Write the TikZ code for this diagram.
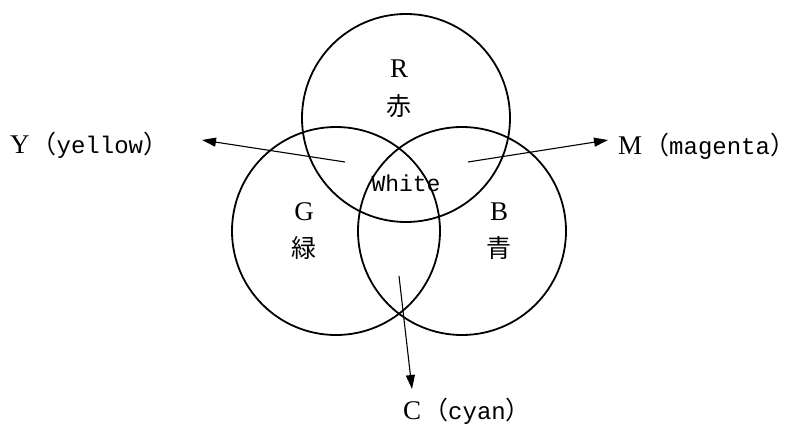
\documentclass[tikz,border=0pt]{standalone}
\usepackage{fontspec}
\setmainfont{Liberation Serif}
\newfontfamily\jpfont{Noto Sans CJK JP}
\newfontfamily\monofont{Liberation Mono}
\usetikzlibrary{arrows.meta}
\newcommand\capl[1]{{\fontsize{27}{30}\selectfont #1}}
\newcommand\jpl[1]{{\jpfont\fontsize{25}{30}\selectfont #1}}
\newcommand\monl[1]{{\monofont\fontsize{23}{30}\selectfont #1}}
\newcommand\monlab[1]{{\monofont\fontsize{24}{30}\selectfont #1}}
\newcommand\colorlabel[2]{\capl{#1}\hspace{2pt}\jpl{（}\monlab{#2}\makebox[10pt][l]{\jpl{）}}}
\begin{document}
\begin{tikzpicture}[x=1pt,y=-1pt,
  setcircle/.style={draw, line width=1.8pt, circle, minimum size=208pt, inner sep=0pt},
  arr/.style={line width=1.1pt, -{Triangle[length=14pt,width=9pt]}},
  lbl/.style={inner sep=0pt, anchor=base west}]
\useasboundingbox (0,0) rectangle (789,426);
\node[setcircle] (red) at (406,118) {};
\node[setcircle] (green) at (336,231) {};
\node[setcircle] (blue) at (462,231) {};
\node (rl) at (399,69) {\capl{R}};
\node (rk) at (399,106) {\jpl{赤}};
\node (gl) at (304,212) {\capl{G}};
\node (gk) at (304,248) {\jpl{緑}};
\node (bl) at (499,212) {\capl{B}};
\node (bk) at (499,248) {\jpl{青}};
\node (white) at (406,183) {\monl{White}};
\node[lbl] (ylab) at (10,153) {\colorlabel{Y}{yellow}};
\node[lbl] (mlab) at (618,154) {\colorlabel{M}{magenta}};
\node[lbl] (clab) at (403,419) {\colorlabel{C}{cyan}};
\coordinate (ys) at (345,162);
\coordinate (ye) at (202,140);
\coordinate (ms) at (468,162);
\coordinate (me) at (608,140);
\coordinate (cs) at (399,276);
\coordinate (ce) at (412,389);
\draw[arr] (ys) -- (ye);
\draw[arr] (ms) -- (me);
\draw[arr] (cs) -- (ce);
\end{tikzpicture}
\end{document}
